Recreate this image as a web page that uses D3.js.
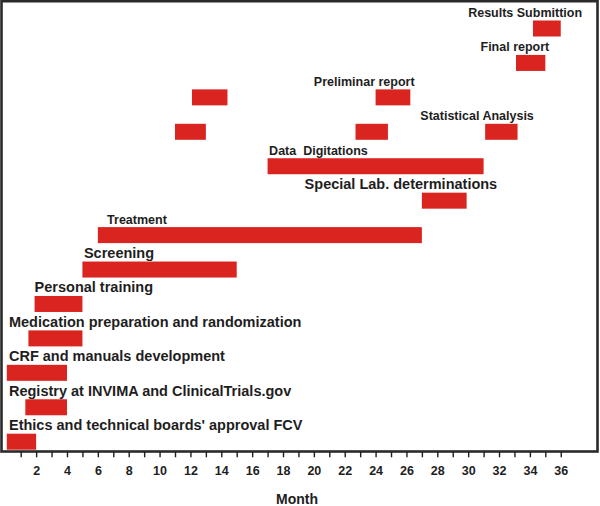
<!DOCTYPE html>
<html>
<head>
<meta charset="utf-8">
<script src="https://cdn.jsdelivr.net/npm/d3@7"></script>
<style>
  html, body { margin: 0; padding: 0; background: #fff; }
  svg { display: block; }
</style>
</head>
<body>
<svg id="chart" width="600" height="506"></svg>
<script>
// ---- data ----
const rows = [
  "Results Submittion",
  "Final report",
  "Preliminar report",
  "Statistical Analysis",
  "Data  Digitations",
  "Special Lab. determinations",
  "Treatment",
  "Screening",
  "Personal training",
  "Medication preparation and randomization",
  "CRF and manuals development",
  "Registry at INVIMA and ClinicalTrials.gov",
  "Ethics and technical boards' approval FCV"
];
// bar segments (month start / end, row index)
const segRow   = [0,    1,    2,    2,     3,  3,    3,    4,  5,    6,  7,  8,   9,   10,  11,  12];
const segStart = [34.2, 33.1, 12.1, 24,    11, 22.7, 31.1, 17, 27,   6,  5,  1.9, 1.5, 0.1, 1.3, 0.1];
const segEnd   = [36,   35,   14.4, 26.25, 13, 24.8, 33.2, 31, 29.9, 27, 15, 5,   5,   4,   4,   2];
// label start month for each row
const labelAt = [30, 30.8, 20, 26.9, 17.1, 19.4, 6.6, 5.1, 1.9, 0.24, 0.24, 0.24, 0.24];
const tickMonths = d3.range(1, 37);
const tickLabels = ["2","4","6","8","10","12","14","16","18","20","22","24","26","28","30","32","34","36"];
const xTitle = "Month";

// ---- drawing ----
const svg = d3.select("#chart");
const x = d3.scaleLinear().domain([0, 36]).range([5.27, 560.75]);
const y = d3.scalePoint().domain(d3.range(rows.length)).range([28.5, 441.7]);
const barH = 16;
const smallLabels = new Set([0, 1, 2, 3, 4, 6]);

// frame
svg.append("rect")
  .attr("x", 1.5).attr("y", 1.2).attr("width", 596).attr("height", 450.3)
  .attr("fill", "none").attr("stroke", "#2a2a2a").attr("stroke-width", 2.6);

// bars
svg.append("g").selectAll("rect")
  .data(segRow.map((r, i) => ({ r, s: segStart[i], e: segEnd[i] })))
  .join("rect")
  .attr("x", d => x(d.s))
  .attr("y", d => y(d.r) - barH / 2)
  .attr("width", d => x(d.e) - x(d.s))
  .attr("height", barH)
  .attr("fill", "#da2420");

// labels
svg.append("g").selectAll("text")
  .data(rows.map((t, i) => ({ t, i })))
  .join("text")
  .attr("x", d => x(labelAt[d.i]))
  .attr("y", d => y(d.i) - barH / 2 - 3.5)
  .attr("font-family", "'Liberation Sans', Arial, Helvetica, sans-serif")
  .attr("font-weight", "bold")
  .attr("font-size", d => smallLabels.has(d.i) ? 12.5 : 14.5)
  .attr("fill", "#1e1e1e")
  .attr("xml:space", "preserve")
  .style("white-space", "pre")
  .text(d => d.t);

// x axis
const axis = d3.axisBottom(x)
  .tickValues(tickMonths)
  .tickSize(5.5)
  .tickFormat(d => (tickLabels.includes(String(d)) ? String(d) : ""));
const gAxis = svg.append("g").attr("transform", "translate(0,451.8)").call(axis);
gAxis.select(".domain").remove();
gAxis.selectAll(".tick line").attr("stroke", "#1e1e1e").attr("stroke-width", 1.4);
gAxis.selectAll(".tick text")
  .attr("y", 14.5)
  .attr("dy", "0.71em")
  .attr("fill", "#1e1e1e")
  .attr("font-family", "'Liberation Sans Narrow', 'Arial Narrow', sans-serif")
  .attr("font-weight", "bold")
  .attr("font-size", 12.5);

svg.append("text")
  .attr("x", 297).attr("y", 504)
  .attr("text-anchor", "middle")
  .attr("font-family", "'Liberation Sans', Arial, sans-serif")
  .attr("font-weight", "bold")
  .attr("font-size", 14)
  .attr("fill", "#1e1e1e")
  .text(xTitle);
</script>
</body>
</html>
